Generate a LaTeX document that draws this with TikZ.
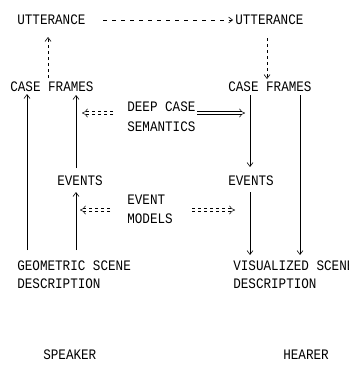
\documentclass[tikz,border=0pt]{standalone}
\usepackage{fontspec}
\setmonofont{Liberation Mono}[FakeStretch=0.87]
\usetikzlibrary{arrows.meta}
\begin{document}
\begin{tikzpicture}[x=1pt,y=-1pt,line width=0.6pt,>={Straight Barb[length=4pt,width=6pt]},
	lbl/.style={anchor=west,inner sep=0pt,font=\ttfamily\fontsize{14.5}{16}\selectfont},
	dbl/.style={double,double distance=2.6pt,line width=0.5pt,-{Implies}},
	dsh/.style={dash pattern=on 3pt off 3pt}]
	\useasboundingbox (0,0) rectangle (348,372);
	% labels
	\path (17,20) node[lbl] (utS) {UTTERANCE}
	(235,20) node[lbl] (utH) {UTTERANCE}
	(10,87) node[lbl] (cfS) {CASE FRAMES}
	(228,87) node[lbl] (cfH) {CASE FRAMES}
	(127,107) node[lbl] (dcs) {DEEP CASE}
	(127,127) node[lbl] (sem) {SEMANTICS}
	(57,181) node[lbl] (evS) {EVENTS}
	(228,181) node[lbl] (evH) {EVENTS}
	(127,200) node[lbl] (evm) {EVENT}
	(127,219) node[lbl] (mod) {MODELS}
	(17,266) node[lbl] (gsc) {GEOMETRIC SCENE}
	(17,284) node[lbl] (gsd) {DESCRIPTION}
	(233,266) node[lbl] (vsc) {VISUALIZED SCENE}
	(233,284) node[lbl] (vsd) {DESCRIPTION}
	(43,355) node[lbl] (spk) {SPEAKER}
	(283,355) node[lbl] (hrr) {HEARER};
	% free ends
	\path (27,250) coordinate (sOutB) (27,94) coordinate (sOutT)
	(76,250) coordinate (sInB) (76,192) coordinate (sInM) (76,168) coordinate (sInU) (76,95) coordinate (sInT)
	(250,95) coordinate (hInT) (250,167) coordinate (hInM) (250,192) coordinate (hInU) (250,255) coordinate (hInB)
	(300,95) coordinate (hOutT) (300,255) coordinate (hOutB)
	(48,78) coordinate (uS) (48,37) coordinate (uSt)
	(267,38) coordinate (uH) (267,79) coordinate (uHt)
	(82,113) coordinate (dcL) (245,113) coordinate (dcR)
	(80,210) coordinate (emL) (235,210) coordinate (emR);
	% speaker side
	\draw[->] (sOutB) -- (sOutT);
	\draw[->] (sInU) -- (sInT);
	\draw[->] (sInB) -- (sInM);
	\draw[->,dsh] (uS) -- (uSt);
	% hearer side
	\draw[->] (hInT) -- (hInM);
	\draw[->] (hInU) -- (hInB);
	\draw[->] (hOutT) -- (hOutB);
	\draw[->,dsh] (uH) -- (uHt);
	\draw[->,dash pattern=on 4pt off 5pt] (103,20) -- ([xshift=-2pt]utH.west);
	% double arrows
	\draw[dbl,dsh] (113,113) -- (dcL);
	\draw[dbl] (197,113) -- (dcR);
	\draw[dbl,dsh] (110,210) -- (emL);
	\draw[dbl,dsh] (192,210) -- (emR);
\end{tikzpicture}
\end{document}
